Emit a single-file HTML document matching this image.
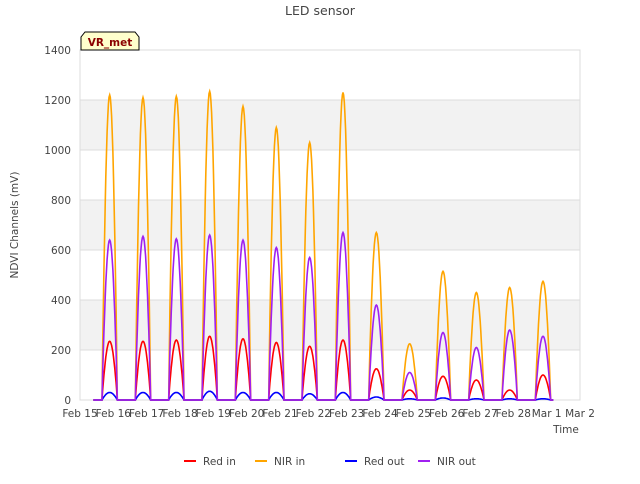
<!DOCTYPE html>
<html><head><meta charset="utf-8"><style>
body{margin:0;background:#fff;font-family:"DejaVu Sans",sans-serif}
svg text{font-family:"DejaVu Sans",sans-serif;fill:#444}
</style></head><body>
<svg width="640" height="480" id="c">
<text x="320" y="15" text-anchor="middle" font-size="12.5">LED sensor</text>
<text transform="translate(18,225) rotate(-90)" text-anchor="middle" font-size="10.5">NDVI Channels (mV)</text>
<text x="566" y="433" text-anchor="middle" font-size="10.5">Time</text>
<g id="grid"></g>
<g id="series"></g>
<g id="ticks"></g>
<g>
<path d="M81,50 L81,37 L85,32 L135,32 L139,37 L139,50 Z" fill="#ffffcc" stroke="#000" stroke-width="1"/>
<text x="110" y="46" text-anchor="middle" font-size="10.5" font-weight="bold" style="fill:#8b0000">VR_met</text>
</g>
<g id="legend"></g>
</svg>
<script>
const yTicks=[0,200,400,600,800,1000,1200,1400];
const xLabels=["Feb 15","Feb 16","Feb 17","Feb 18","Feb 19","Feb 20","Feb 21","Feb 22","Feb 23","Feb 24","Feb 25","Feb 26","Feb 27","Feb 28","Mar 1","Mar 2"];
const seriesNames=["NIR in","NIR out","Red in","Red out"];
const nirIn=[1220,1210,1215,1235,1175,1090,1030,1230,670,225,515,430,450,475];
const nirOut=[640,655,645,660,640,610,570,670,380,110,270,210,280,255];
const redIn=[235,235,240,255,245,230,215,240,125,40,95,80,40,100];
const redOut=[30,30,30,35,30,30,25,30,12,5,8,5,5,5];
const colors={"NIR in":"#ffa500","NIR out":"#a020f0","Red in":"#ff0000","Red out":"#0000ff"};
const NS="http://www.w3.org/2000/svg";
const X0=80,X1=580,Y0=400,Y1=50;
const xs=d=>X0+(X1-X0)*d/15;
const ys=v=>Y0-(Y0-Y1)*v/1400;
function mk(t,a,p){const e=document.createElementNS(NS,t);for(const k in a)e.setAttribute(k,a[k]);p.appendChild(e);return e;}
const grid=document.getElementById('grid');
for(let i=0;i<yTicks.length-1;i++){
 if(i%2==1){const r=mk('rect',{x:X0,y:ys(yTicks[i+1]),width:X1-X0,height:ys(yTicks[i])-ys(yTicks[i+1]),fill:'#f2f2f2'},grid);
 
 }
}
yTicks.forEach(v=>{const l=mk('line',{x1:X0,x2:X1,y1:ys(v),y2:ys(v),stroke:'#dcdcdc','stroke-width':1},grid);

});
mk('rect',{x:X0,y:Y1,width:X1-X0,height:Y0-Y1,fill:'none',stroke:'#dcdcdc'},grid);
const tk=document.getElementById('ticks');
yTicks.forEach(v=>{const t=mk('text',{x:71,y:ys(v)+4,'text-anchor':'end','font-size':10.5},tk);t.textContent=v;

});
xLabels.forEach((s,i)=>{const t=mk('text',{x:xs(i),y:417,'text-anchor':'middle','font-size':10.5},tk);t.textContent=s;

});
const sg=document.getElementById('series');
const data={"NIR in":nirIn,"NIR out":nirOut,"Red in":redIn,"Red out":redOut};
["NIR in","Red in","Red out","NIR out"].forEach(name=>{
 const vals=data[name];let pts=[[xs(0.4),ys(0)]];
 vals.forEach((pk,d)=>{const s=d+0.66,e=d+1.12;
  pts.push([xs(s),ys(0)]);
  for(let k=0;k<=24;k++){const f=k/24;pts.push([xs(s+(e-s)*f),ys(pk*Math.pow(Math.sin(Math.PI*f),0.9))]);}
  pts.push([xs(e),ys(0)]);});
 pts.push([xs(14.2),ys(0)]);
 const p=mk('polyline',{points:pts.map(p=>p[0].toFixed(1)+','+p[1].toFixed(1)).join(' '),fill:'none',stroke:colors[name],'stroke-width':1.6},sg);
 
 
});
const lg=document.getElementById('legend');
const lx=[184,255,345,418];
["Red in","NIR in","Red out","NIR out"].forEach((n,i)=>{
 const g=mk('g',{},lg);
 
 
 mk('line',{x1:lx[i],x2:lx[i]+12,y1:461,y2:461,stroke:colors[n],'stroke-width':2},g);
 const t=mk('text',{x:lx[i]+19,y:465,'font-size':10.5},g);t.textContent=n;
});
</script>
</body></html>
